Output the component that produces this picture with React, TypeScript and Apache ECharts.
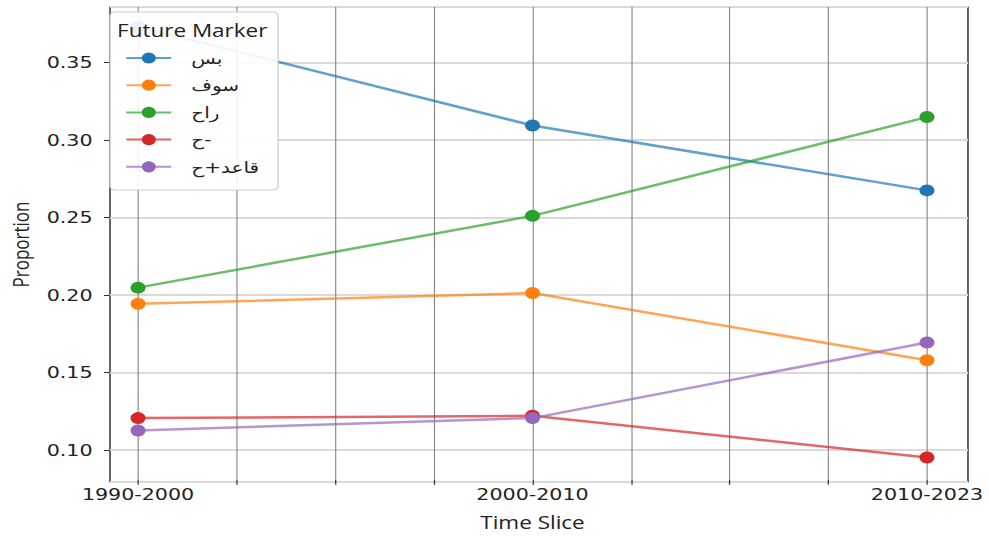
import { useEffect, useRef } from 'react';
import * as echarts from 'echarts';

// Categories (x positions 0, 1, 2 on a quarter-step value axis)
const timeSlices = ['1990-2000', '2000-2010', '2010-2023'];
const xStep = 0.25;

// Legend / series names
const markers = ['بس', 'سوف', 'راح', 'ح-', 'قاعد+ح'];
const colors = ['#1f77b4', '#ff7f0e', '#2ca02c', '#d62728', '#9467bd'];

// Series values (proportion per time slice)
const bs = [0.373, 0.309, 0.267];
const sawfa = [0.1935, 0.2005, 0.157];
const rah = [0.204, 0.2505, 0.3145];
const ha = [0.1195, 0.121, 0.094];
const qaed = [0.1115, 0.1195, 0.1685];

const yMin = 0.0794;
const yMax = 0.3858;

const FONT = '"Open Sans", "DejaVu Sans", sans-serif';
const TICK_FONT = '"DejaVu Sans", sans-serif';
const W = 791;
const SX = 989 / W;

export default function App() {
  const ref = useRef<HTMLDivElement>(null);
  useEffect(() => {
    const chart = echarts.init(ref.current!, null, { renderer: 'svg' });
    const values = [bs, sawfa, rah, ha, qaed];
    chart.setOption({
      animation: false,
      backgroundColor: '#ffffff',
      textStyle: { fontFamily: FONT },
      grid: [
        { left: 78.4, right: 16.8, top: 7, bottom: 54, show: true, borderColor: '#333', borderWidth: 1.2, backgroundColor: 'transparent' },
        { left: 110.4, right: 49.6, top: 7, bottom: 54 },
      ],
      xAxis: [
        { gridIndex: 0, type: 'value', min: 0, max: 1, show: false },
        {
          gridIndex: 1,
          type: 'value',
          min: 0,
          max: timeSlices.length - 1,
          interval: xStep,
          axisLine: { show: false },
          axisTick: { show: true, length: 4.8, lineStyle: { color: '#333', width: 1 } },
          axisLabel: {
            margin: 6,
            fontSize: 16.5,
            color: '#222',
            fontFamily: TICK_FONT,
            showMinLabel: true,
            showMaxLabel: true,
            formatter: (v: number) => {
              const i = Math.round(v);
              return Math.abs(v - i) < 1e-6 ? timeSlices[i] ?? '' : '';
            },
          },
          splitLine: { show: true, lineStyle: { color: '#858585', width: 0.9 } },
          name: 'Time Slice',
          nameLocation: 'middle',
          nameGap: 33,
          nameTextStyle: { fontSize: 18, color: '#222', fontFamily: FONT },
        },
      ],
      yAxis: [
        {
          gridIndex: 0,
          type: 'value',
          min: yMin,
          max: yMax,
          axisLine: { show: false },
          axisTick: { show: true, length: 4.8, lineStyle: { color: '#333', width: 1 } },
          axisLabel: {
            margin: 14,
            fontSize: 16.5,
            color: '#222',
            fontFamily: TICK_FONT,
            showMinLabel: false,
            showMaxLabel: false,
            formatter: (v: number) => v.toFixed(2),
          },
          splitLine: { show: true, lineStyle: { color: '#dadada', width: 1.8 } },
          name: 'Proportion',
          nameLocation: 'middle',
          nameGap: 63,
          nameTextStyle: { fontSize: 17, color: '#222', fontFamily: FONT },
        },
        { gridIndex: 1, type: 'value', min: yMin, max: yMax, show: false },
      ],
      legend: {
        data: markers,
        orient: 'vertical',
        left: 100,
        top: 50,
        itemWidth: 36,
        itemHeight: 14,
        itemGap: 11.2,
        padding: 0,
        z: 20,
        textStyle: { fontFamily: '"DejaVu Sans", sans-serif', fontSize: 16, color: '#222', lineHeight: 14, padding: [0, 0, 0, 11] },
      },
      graphic: [
        {
          type: 'rect',
          shape: { x: 88, y: 12, width: 134.4, height: 178, r: 4 },
          style: { fill: 'rgba(255,255,255,0.9)', stroke: '#cccccc', lineWidth: 1 },
          z: 10,
        },
        {
          type: 'text',
          x: 93.6,
          y: 30,
          style: { text: 'Future Marker', font: '18px "Open Sans"', fill: '#222', verticalAlign: 'middle' },
          z: 21,
        },
      ],
      series: markers.map((name, k) => ({
        name,
        type: 'line',
        xAxisIndex: 1,
        yAxisIndex: 1,
        data: values[k].map((v, i) => [i, v]),
        symbol: 'circle',
        symbolSize: 12,
        showSymbol: true,
        clip: false,
        color: colors[k],
        lineStyle: { width: 2.5, opacity: 0.7, color: colors[k] },
        itemStyle: { color: colors[k] },
      })),
    });
    return () => chart.dispose();
  }, []);
  return (
    <div
      ref={ref}
      style={{
        position: 'fixed',
        left: 0,
        top: 0,
        width: W,
        height: 536,
        transform: `scaleX(${SX})`,
        transformOrigin: '0 0',
        background: '#fff',
      }}
    />
  );
}
